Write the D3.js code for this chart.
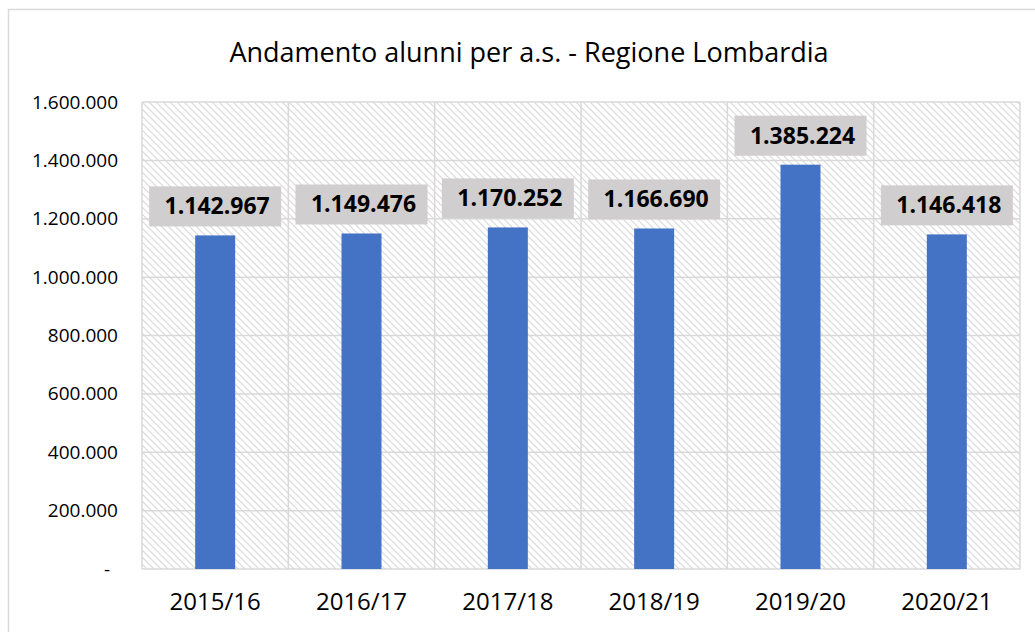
<!DOCTYPE html>
<html>
<head>
<meta charset="utf-8">
<script src="https://cdn.jsdelivr.net/npm/d3@7"></script>
<style>
  body { margin: 0; background: #fff; }
  svg { display: block; font-family: "Open Sans", "Noto Sans", sans-serif; }
</style>
</head>
<body>
<svg id="chart" width="1035" height="632"></svg>
<script>
// data
const years = ["2015/16", "2016/17", "2017/18", "2018/19", "2019/20", "2020/21"];
const students = [1142967, 1149476, 1170252, 1166690, 1385224, 1146418];
const yTicks = [0, 200000, 400000, 600000, 800000, 1000000, 1200000, 1400000, 1600000];
const title = "Andamento alunni per a.s. - Regione Lombardia";

const svg = d3.select("#chart");
const margin = { top: 102, right: 15, bottom: 63, left: 142 };
const width = +svg.attr("width") - margin.left - margin.right;
const height = +svg.attr("height") - margin.top - margin.bottom;

// Italian number format: dots as thousand separators
const itFmt = d3.formatLocale({ decimal: ",", thousands: ".", grouping: [3], currency: ["€", ""] }).format(",d");

// outer chart frame (bottom and right run off the picture)
svg.append("rect")
    .attr("x", 8.5).attr("y", 9.5)
    .attr("width", 1040).attr("height", 640)
    .attr("fill", "none").attr("stroke", "#d9d9d9").attr("stroke-width", 1.5);

// hatched plot background
const defs = svg.append("defs");
const pat = defs.append("pattern")
    .attr("id", "hatch")
    .attr("patternUnits", "userSpaceOnUse")
    .attr("width", 7).attr("height", 7);
pat.append("rect").attr("width", 7).attr("height", 7).attr("fill", "#fff");
pat.append("path")
    .attr("d", "M-1,-1 L8,8 M-1,6 L1,8 M6,-1 L8,1")
    .attr("stroke", "#dadada").attr("stroke-width", 1.2);

svg.append("text")
    .attr("x", 529).attr("y", 62)
    .attr("text-anchor", "middle")
    .attr("font-size", 27)
    .attr("fill", "#000")
    .text(title);

const x = d3.scaleBand().domain(years).range([0, width]).paddingInner(0).paddingOuter(0);
const y = d3.scaleLinear().domain([0, 1600000]).range([height, 0]);

const g = svg.append("g").attr("transform", `translate(${margin.left},${margin.top})`);

g.append("rect")
    .attr("width", width).attr("height", height)
    .attr("fill", "url(#hatch)");

// horizontal gridlines
g.append("g")
    .selectAll("line")
    .data(yTicks)
    .join("line")
    .attr("x1", 0).attr("x2", width)
    .attr("y1", d => y(d)).attr("y2", d => y(d))
    .attr("stroke", "#d9d9d9").attr("stroke-width", 1.5);

// vertical category separators
g.append("g")
    .selectAll("line")
    .data(d3.range(years.length + 1))
    .join("line")
    .attr("x1", i => i * x.step()).attr("x2", i => i * x.step())
    .attr("y1", 0).attr("y2", height)
    .attr("stroke", "#d9d9d9").attr("stroke-width", 1.5);

// y axis
const yAxis = g.append("g")
    .attr("transform", "translate(-24,0)")
    .call(d3.axisLeft(y).tickValues(yTicks).tickSize(0).tickPadding(0)
        .tickFormat(d => d === 0 ? "-" : itFmt(d)));
yAxis.select(".domain").remove();
yAxis.selectAll("text").attr("font-size", 19).attr("fill", "#000").attr("font-family", "Open Sans");
yAxis.selectAll(".tick").filter(d => d === 0).select("text").attr("x", -8);

// x axis
const xAxis = g.append("g")
    .attr("transform", `translate(0,${height})`)
    .call(d3.axisBottom(x).tickSize(0).tickPadding(24));
xAxis.select(".domain").remove();
xAxis.selectAll("text").attr("font-size", 24).attr("fill", "#000").attr("font-family", "Open Sans");

// bars
const barW = 40;
g.selectAll(".bar")
    .data(years)
    .join("rect")
    .attr("class", "bar")
    .attr("x", (d, i) => x(d) + x.bandwidth() / 2 - barW / 2)
    .attr("y", (d, i) => y(students[i]))
    .attr("width", barW)
    .attr("height", (d, i) => height - y(students[i]))
    .attr("fill", "#4472c4");

// data labels with grey boxes
const lab = g.selectAll(".lab")
    .data(years)
    .join("g")
    .attr("class", "lab")
    .attr("transform", (d, i) => `translate(${x(d) + x.bandwidth() / 2},${y(students[i]) - 29})`);
lab.append("rect")
    .attr("x", -66).attr("y", -20)
    .attr("width", 132).attr("height", 40)
    .attr("fill", "#d0cece");
lab.append("text")
    .attr("x", 2).attr("y", 8)
    .attr("text-anchor", "middle")
    .attr("font-size", 23)
    .attr("font-weight", "bold")
    .attr("fill", "#000")
    .text((d, i) => itFmt(students[i]));
</script>
</body>
</html>
